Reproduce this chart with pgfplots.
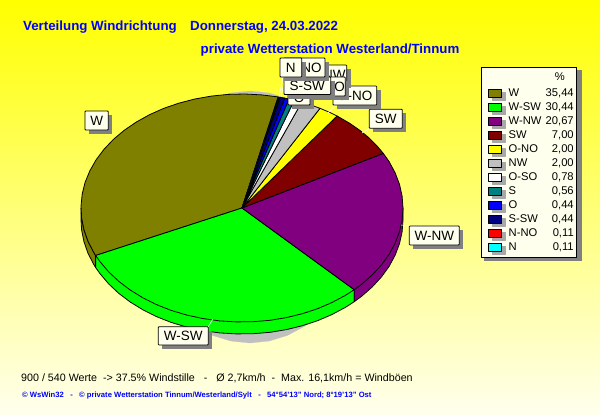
\documentclass[border=0pt]{standalone}
\usepackage{fontspec}
\setmainfont{Liberation Sans}
\usepackage{pgfplots}
\pgfplotsset{compat=1.18}

\definecolor{cW}{HTML}{808000}
\definecolor{cWSW}{HTML}{00FF00}
\definecolor{cWNW}{HTML}{800080}
\definecolor{cSW}{HTML}{800000}
\definecolor{cONO}{HTML}{FFFF00}
\definecolor{cNW}{HTML}{C0C0C0}
\definecolor{cOSO}{HTML}{FFFFFF}
\definecolor{cS}{HTML}{008080}
\definecolor{cO}{HTML}{0000FF}
\definecolor{cSSW}{HTML}{000080}
\definecolor{cNNO}{HTML}{FF0000}
\definecolor{cN}{HTML}{00FFFF}
\definecolor{ivory}{HTML}{FFFFEE}
\definecolor{shadow}{HTML}{808080}
\definecolor{swshadow}{HTML}{A8A8A8}
\definecolor{titleblue}{HTML}{0000FF}

\tikzset{pie/.style={draw=black,line width=.8pt,line join=round}}

\pgfplotsset{
  percentrow/.style={legend image code/.code={\path (0pt,-5.6pt) (1pt,12.6pt);}},
  lastrow/.style={legend image code/.code={
      \path (0pt,-6.6pt) (0pt,9.7pt);
      \fill[swshadow] (3.5pt,-3.5pt) rectangle (16.5pt,4pt);
      \draw[##1] (0pt,-0.5pt) rectangle (13pt,7.5pt);
  }},
}

% label box: x1 y1 x2 y2 text, in picture pixels
\newcommand{\lab}[5]{%
  \fill[shadow] (axis cs:#1+4,#2+4) rectangle (axis cs:#3+4,#4+4);
  \draw[black,fill=ivory,line width=.8pt,rounded corners=.8pt] (axis cs:#1,#2) rectangle (axis cs:#3,#4);
  \node[font=\fontsize{13.5}{15}\selectfont,inner sep=0pt] at (axis cs:{(#1+#3)/2},{(#2+#4)/2}) {#5};
}
\newcommand{\leg}[2]{\makebox[64pt][l]{\hspace{3pt}\makebox[65pt]{#1\hfill #2}}}

\begin{document}
\begin{tikzpicture}
\begin{axis}[
    scale only axis,
    width=600pt,
    height=415pt,
    xmin=0, xmax=600,
    ymin=0, ymax=415,
    y dir=reverse,
    axis lines=none,
    no markers,
    axis background/.style={top color=yellow,bottom color=ivory},
    legend style={
      at={(0.8017,0.8386)},
      anchor=north west,
      draw=black,
      line width=.8pt,
      fill=ivory,
      inner xsep=7pt,
      inner ysep=0pt,
      row sep=0pt,
      font=\fontsize{11.2}{13}\selectfont,
      nodes={inner sep=0pt,anchor=base},
      column sep=0pt,
    },
    legend image code/.code={
      \path (0pt,-3.5pt) (0pt,9.7pt);
      \fill[swshadow] (3.5pt,-3.5pt) rectangle (16.5pt,4pt);
      \draw[#1] (0pt,-0.5pt) rectangle (13pt,7.5pt);
    },
]
% pie shadow
\addplot[fill=cNW,draw=cNW,line width=.1pt,forget plot] coordinates {
 (250,91) (269.1,92.9) (287.6,98.6) (305,107.9) (320.7,120.5) (334.3,136)
 (360,217) (334.3,298) (320.7,313.5) (305,326.1) (287.6,335.4) (269.1,341.1)
 (250,343) (230.9,341.1) (212.4,335.4) (195,326.1) (179.3,313.5) (165.7,298)
 (140,217) (165.7,136) (179.3,120.5) (195,107.9) (212.4,98.6) (230.9,92.9) (250,91)
};
% side walls
\addplot[pie,fill=cW,forget plot] coordinates {
 (81,208) (81.6,217.9) (84,229.8) (88,241.3) (93.8,252.5) (95.6,255.5)
 (95.6,267.5) (93.8,264.5) (88,253.3) (84,241.8) (81.6,229.9) (81,220) (81,208)
};
\addplot[pie,fill=cWSW,forget plot] coordinates {
 (95.6,255.5) (95.6,267.5) (99.9,273.5) (108.5,283.7) (118.7,293.3) (130.2,302)
 (142.9,309.8) (156.7,316.7) (171.4,322.5) (186.9,327.1) (203.1,330.6) (219.6,332.9)
 (236.4,333.9) (253.2,333.7) (270,332.3) (286.4,329.6) (302.3,325.7) (317.6,320.7)
 (332,314.5) (345.5,307.3) (354.2,301.7) (354.2,289.7) (95.6,255.5)
};
\addplot[pie,fill=cWNW,forget plot] coordinates {
 (354.2,289.7) (354.2,301.7) (361.6,296.3) (372.2,287) (381.4,277) (389.1,266.4)
 (395.1,255.2) (399.5,243.7) (402.1,231.9) (403,220) (403,208) (354.2,289.7)
};

\addlegendimage{percentrow}
\addlegendentry{\makebox[64pt][l]{\hspace{3pt}\makebox[65pt]{\hfill\%\hspace{9pt}}}}

% slices, in legend order
\addplot[pie,fill=cW] coordinates {
 (242,208) (278.2,96.9) (261.6,94.9) (244.8,94) (228,94.4) (211.3,96.1) (194.9,99)
 (179.1,103.1) (163.9,108.3) (149.7,114.6) (136.4,122) (124.2,130.3) (113.4,139.4)
 (104,149.3) (96.1,159.8) (89.8,170.9) (85.1,182.4) (82.2,194.1) (81,206) (81.6,217.9)
 (84,229.8) (88,241.3) (93.8,252.5) (95.6,255.5) (242,208)
};
\addlegendentry{\leg{W}{35,44}}
\addplot[pie,fill=cWSW] coordinates {
 (242,208) (95.6,255.5) (99.9,261.5) (108.5,271.7) (118.7,281.3) (130.2,290) (142.9,297.8)
 (156.7,304.7) (171.4,310.5) (186.9,315.1) (203.1,318.6) (219.6,320.9) (236.4,321.9)
 (253.2,321.7) (270,320.3) (286.4,317.6) (302.3,313.7) (317.6,308.7) (332,302.5)
 (345.5,295.3) (354.2,289.7) (242,208)
};
\addlegendentry{\leg{W-SW}{30,44}}
\addplot[pie,fill=cWNW] coordinates {
 (242,208) (354.2,289.7) (361.6,284.3) (372.2,275) (381.4,265) (389.1,254.4) (395.1,243.2)
 (399.5,231.7) (402.1,219.9) (403,208) (402.1,196.1) (399.5,184.3) (395.1,172.8)
 (389.1,161.6) (383.3,153.4) (242,208)
};
\addlegendentry{\leg{W-NW}{20,67}}
\addplot[pie,fill=cSW] coordinates {
 (242,208) (383.3,153.4) (377,145.9) (368.9,137.8) (359.8,130.3) (349.7,123.3) (337.1,116) (242,208)
};
\addlegendentry{\leg{SW}{7,00}}
\addplot[pie,fill=cONO] coordinates {
 (242,208) (337.1,116) (329.7,112.4) (320,108.3) (242,208)
};
\addlegendentry{\leg{O-NO}{2,00}}
\addplot[pie,fill=cNW] coordinates {
 (242,208) (320,108.3) (310,104.7) (301.7,102.2) (242,208)
};
\addlegendentry{\leg{NW}{2,00}}
\addplot[pie,fill=cOSO] coordinates {
 (242,208) (301.7,102.2) (294.3,100.2) (242,208)
};
\addlegendentry{\leg{O-SO}{0,78}}
\addplot[pie,fill=cS] coordinates {
 (242,208) (294.3,100.2) (289,99) (242,208)
};
\addlegendentry{\leg{S}{0,56}}
\addplot[pie,fill=cO] coordinates {
 (242,208) (289,99) (284.7,98.1) (242,208)
};
\addlegendentry{\leg{O}{0,44}}
\addplot[pie,fill=cSSW] coordinates {
 (242,208) (284.7,98.1) (280.4,97.3) (242,208)
};
\addlegendentry{\leg{S-SW}{0,44}}
\addplot[pie,fill=cNNO] coordinates {
 (242,208) (279.3,97.1) (278.2,96.9) (242,208)
};
\addlegendentry{\leg{N-NO}{0,11}}
\addplot[pie,fill=cN,lastrow] coordinates {
 (242,208) (280.4,97.3) (279.3,97.1) (242,208)
};
\addlegendentry{\leg{N}{0,11}}

% connectors
\addplot[white,line width=.6pt,forget plot] coordinates {(401,225) (410,226)};
\addplot[white,line width=.6pt,forget plot] coordinates {(208,327) (213,319)};
\addplot[white,line width=.6pt,forget plot] coordinates {(362,133) (370,128)};
\addplot[white,line width=.6pt,forget plot] coordinates {(328,113) (335,105)};
\addplot[white,line width=.6pt,forget plot] coordinates {(279,97) (283,77)};
\addplot[white,line width=.6pt,forget plot] coordinates {(281,97) (285,77)};

% legend box shadow
\fill[shadow] (axis cs:484,70) rectangle (axis cs:582,261);

% labels, same stacking as the original
\lab{85}{111}{108.3}{130}{W}
\lab{158.3}{326.7}{208.3}{345}{W-SW}
\lab{409.3}{226}{459.3}{245}{W-NW}
\lab{369.3}{109.3}{402.3}{128.3}{SW}
\lab{333}{86}{376.7}{105}{O-NO}
\lab{322}{65}{346.7}{84}{NW}
\lab{310}{77}{345.3}{96}{O-SO}
\lab{288}{91}{310}{105}{O}
\lab{284}{77}{330.7}{94.5}{S-SW}
\lab{284}{58}{325}{77}{N-NO}
\lab{280}{58}{301.7}{77}{N}

% titles and footer
\node[anchor=base west,inner sep=0pt,text=titleblue,font=\fontsize{13.3}{15}\selectfont\bfseries] at (axis cs:23,30) {Verteilung Windrichtung};
\node[anchor=base west,inner sep=0pt,text=titleblue,font=\fontsize{13.3}{15}\selectfont\bfseries] at (axis cs:190,30) {Donnerstag, 24.03.2022};
\node[anchor=base west,inner sep=0pt,text=titleblue,font=\fontsize{13.3}{15}\selectfont\bfseries] at (axis cs:200.5,53) {private Wetterstation Westerland/Tinnum};
\node[anchor=base west,inner sep=0pt,font=\fontsize{10.7}{13}\selectfont] at (axis cs:21,381) {900 / 540 Werte\ \ -> 37.5\% Windstille\ \ \ -\ \ \ Ø 2,7km/h\ \ -\ \ Max. 16,1km/h = Windböen};
\node[anchor=base west,inner sep=0pt,text=titleblue,font=\fontsize{7.65}{10}\selectfont\bfseries] at (axis cs:22,397) {© WsWin32\ \ \ -\ \ \ © private Wetterstation Tinnum/Westerland/Sylt\ \ \ -\ \ \ 54°54'13'' Nord; 8°19'13'' Ost};
\end{axis}
\end{tikzpicture}
\end{document}
